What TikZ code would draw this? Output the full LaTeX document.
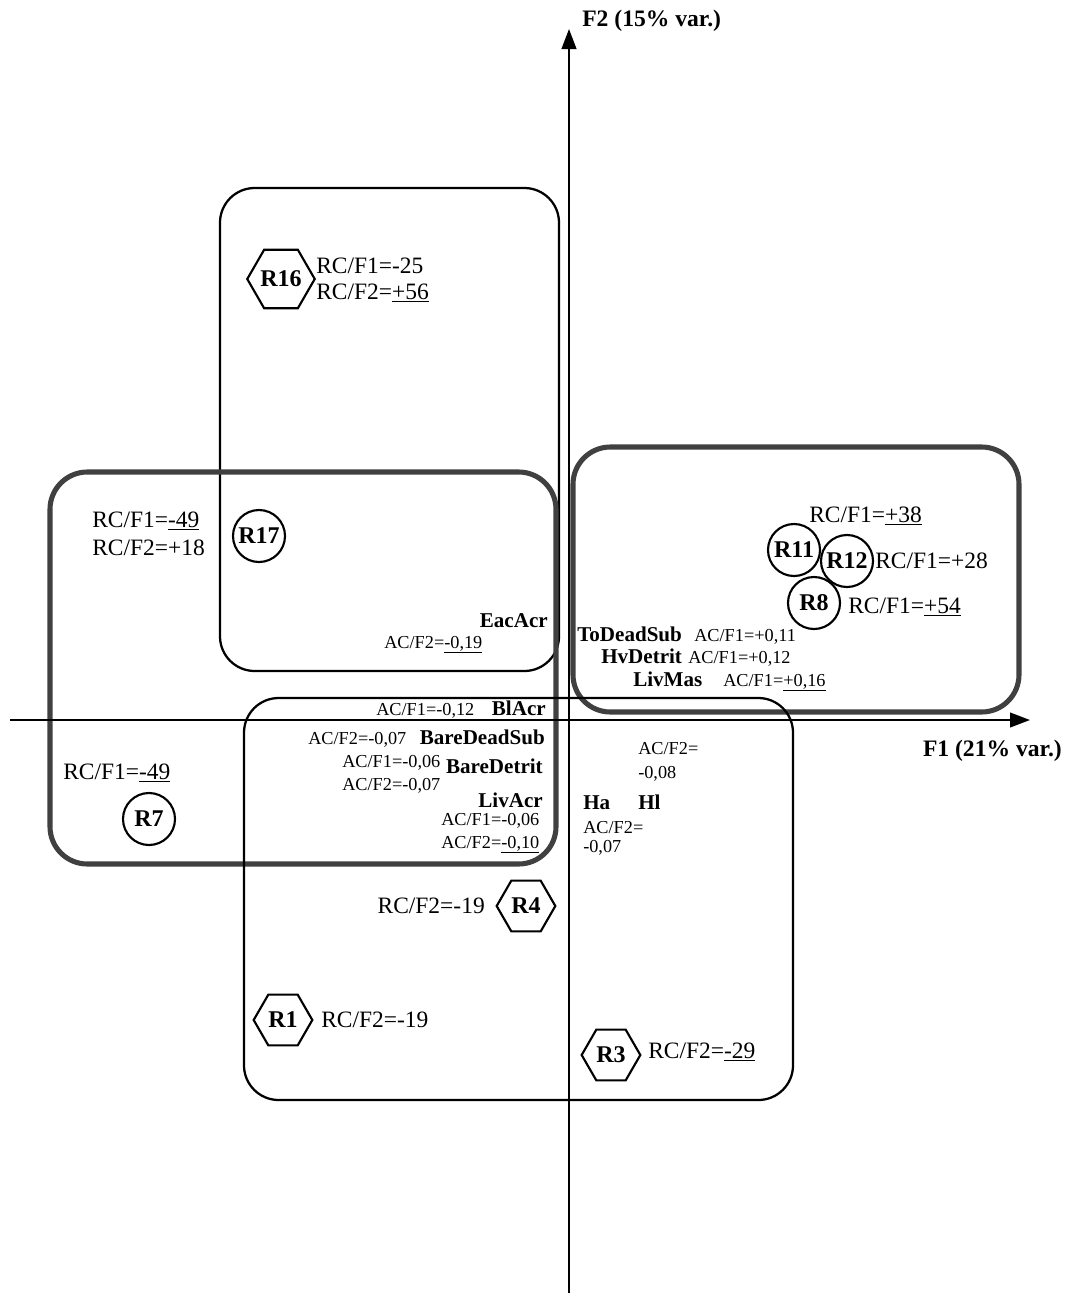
\documentclass[tikz,border=0pt]{standalone}
\usepackage{fontspec}
\setmainfont{Liberation Serif}
\usetikzlibrary{arrows.meta,shapes.geometric}
\definecolor{boxgray}{RGB}{64,64,64}
\begin{document}
\begin{tikzpicture}[x=0.75pt,y=-0.75pt,
  site/.style={circle,draw,line width=1.6pt,minimum size=39pt,inner sep=0pt,font=\fontsize{18}{20}\selectfont\bfseries},
  hexsite/.style={regular polygon,regular polygon sides=6,draw,line width=1.6pt,minimum size=44pt,inner sep=0pt,font=\fontsize{18}{20}\selectfont\bfseries},
  rc/.style={inner sep=0pt,anchor=base west,font=\fontsize{17.6}{20}\selectfont},
  ac/.style={inner sep=0pt,anchor=base west,font=\fontsize{13.7}{16}\selectfont},
  var/.style={inner sep=0pt,anchor=base west,font=\fontsize{15.8}{18}\selectfont\bfseries},
  axlab/.style={inner sep=0pt,font=\fontsize{17.7}{20}\selectfont\bfseries},
  axis/.style={line width=1.5pt,-{Triangle[length=15pt,width=11pt]}},
  thinbox/.style={line width=1.7pt,rounded corners=26pt},
  thickbox/.style={draw=boxgray,line width=3.8pt,rounded corners=28pt}]
\path[use as bounding box] (0,0) rectangle (1066,1296);

\draw[thinbox] (220,188) rectangle (559,671);
\draw[thickbox] (50,472) rectangle (556,864);
\draw[thickbox] (573,447) rectangle (1019,712);
\draw[thinbox] (244,698) rectangle (793,1100);

\coordinate (xstart) at (10,720);
\coordinate (xend) at (1030,720);
\coordinate (ystart) at (569,1293);
\coordinate (yend) at (569,29);
\draw[axis] (xstart) -- (xend);
\draw[axis] (ystart) -- (yend);
\node[axlab,anchor=base west] (f2lab) at (582,26) {F2 (15\% var.)};
\node[axlab,anchor=base east] (f1lab) at (1062,756) {F1 (21\% var.)};

\node[hexsite] (r16) at (281,279) {R16};
\node[rc] (r16a) at (316,273) {RC/F1=-25};
\node[rc] (r16b) at (316,299) {RC/F2=\underline{+56}};

\node[site] (r17) at (259,536) {R17};
\node[rc] (r17a) at (92,527) {RC/F1=\underline{-49}};
\node[rc] (r17b) at (92,555) {RC/F2=+18};
\node[var,anchor=base east] (eacacr) at (548,627) {EacAcr};
\node[ac] (eacacrf2) at (384,648) {AC/F2=\underline{-0,19}};

\node[site] (r11) at (794,550) {R11};
\node[site] (r12) at (847,561) {R12};
\node[site] (r8) at (814,603) {R8};
\node[rc] (r11a) at (809,522) {RC/F1=\underline{+38}};
\node[rc] (r12a) at (875,568) {RC/F1=+28};
\node[rc] (r8a) at (848,613) {RC/F1=\underline{+54}};
\node[var] (todead) at (577,641) {ToDeadSub};
\node[ac] (todeadf1) at (694,641) {AC/F1=+0,11};
\node[var] (hvdet) at (601,663) {HvDetrit};
\node[ac] (hvdetf1) at (688,663) {AC/F1=+0,12};
\node[var] (livmas) at (633,686) {LivMas};
\node[ac] (livmasf1) at (723,686) {AC/F1=\underline{+0,16}};

\node[ac] (blacrf1) at (376,715) {AC/F1=\underline{-0,12}};
\node[var,anchor=base east] (blacr) at (546,715) {BlAcr};
\node[ac] (bdsubf2) at (308,744) {AC/F2=-0,07};
\node[var,anchor=base east] (bdsub) at (545,744) {BareDeadSub};
\node[ac] (bdetf1) at (342,767) {AC/F1=-0,06};
\node[var,anchor=base east] (bdet) at (543,773) {BareDetrit};
\node[ac] (bdetf2) at (342,790) {AC/F2=-0,07};
\node[var,anchor=base east] (livacr) at (543,807) {LivAcr};
\node[ac] (livacrf1) at (441,825) {AC/F1=-0,06};
\node[ac] (livacrf2) at (441,848) {AC/F2=\underline{-0,10}};

\node[var] (ha) at (583,809) {Ha};
\node[var] (hl) at (638,809) {Hl};
\node[ac] (hlf2) at (638,754) {AC/F2=};
\node[ac] (hlf2v) at (638,778) {-0,08};
\node[ac] (haf2) at (583,833) {AC/F2=};
\node[ac] (haf2v) at (583,852) {-0,07};

\node[site] (r7) at (149,819) {R7};
\node[rc] (r7a) at (63,779) {RC/F1=\underline{-49}};

\node[hexsite] (r4) at (526,906) {R4};
\node[rc,anchor=base east] (r4a) at (485,913) {RC/F2=-19};
\node[hexsite] (r1) at (283,1020) {R1};
\node[rc] (r1a) at (321,1027) {RC/F2=-19};
\node[hexsite] (r3) at (611,1055) {R3};
\node[rc] (r3a) at (648,1058) {RC/F2=\underline{-29}};
\end{tikzpicture}
\end{document}
